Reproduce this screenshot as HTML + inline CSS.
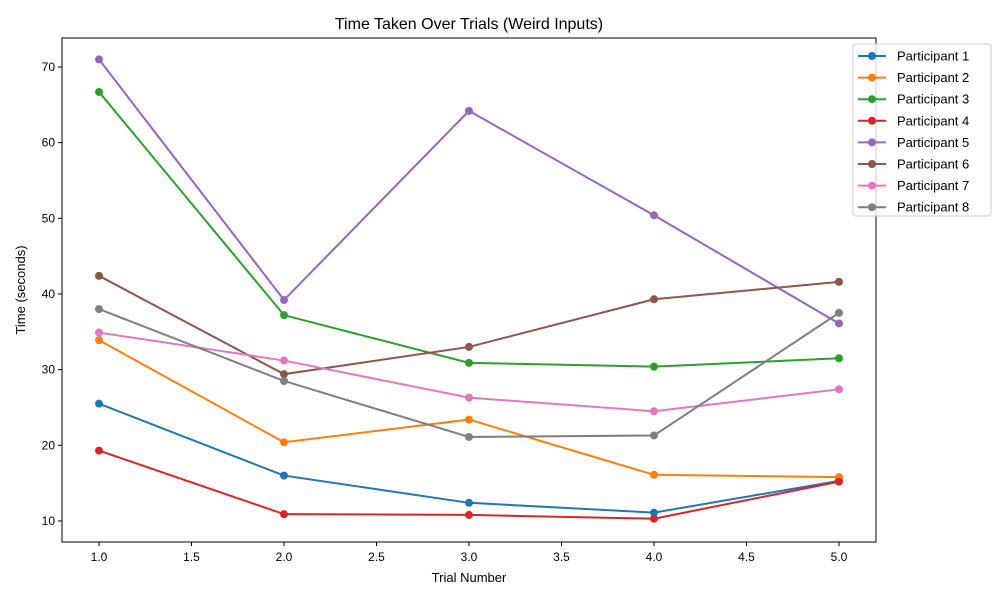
<!DOCTYPE html>
<html><head><meta charset="utf-8"><style>
body{margin:0;background:#fff;font-family:"Liberation Sans",sans-serif}
</style></head><body>
<svg id="chart" width="1000" height="600" xmlns="http://www.w3.org/2000/svg" font-family="Liberation Sans, sans-serif"></svg>
<script>
const trials=[1,2,3,4,5];
const seriesNames=["Participant 1","Participant 2","Participant 3","Participant 4","Participant 5","Participant 6","Participant 7","Participant 8"];
const p1=[25.5,16.0,12.4,11.1,15.3];
const p2=[33.9,20.4,23.4,16.1,15.8];
const p3=[66.7,37.2,30.9,30.4,31.5];
const p4=[19.3,10.9,10.8,10.3,15.2];
const p5=[71.0,39.2,64.2,50.4,36.1];
const p6=[42.4,29.4,33.0,39.3,41.6];
const p7=[34.9,31.2,26.3,24.5,27.4];
const p8=[38.0,28.5,21.1,21.3,37.5];
const xTicks=[1.0,1.5,2.0,2.5,3.0,3.5,4.0,4.5,5.0];
const yTicks=[10,20,30,40,50,60,70];
const colors=["#1f77b4","#ff7f0e","#2ca02c","#d62728","#9467bd","#8c564b","#e377c2","#7f7f7f"];
const series=[p1,p2,p3,p4,p5,p6,p7,p8];
const L=62,R=876,T=38,B=542,xmin=0.8,xmax=5.2,ymin=7.22,ymax=73.83;
const X=v=>L+(v-xmin)/(xmax-xmin)*(R-L);
const Y=v=>B-(v-ymin)/(ymax-ymin)*(B-T);
const svg=document.getElementById('chart');const NS="http://www.w3.org/2000/svg";
function mk(t,a,p){const e=document.createElementNS(NS,t);for(const k in a)e.setAttribute(k,a[k]);(p||svg).appendChild(e);return e;}
const title=mk('text',{x:469,y:29,'text-anchor':'middle','font-size':16,fill:'#000'});title.textContent="Time Taken Over Trials (Weird Inputs)";


xTicks.forEach(v=>{const g=mk('g',{});


mk('line',{x1:X(v),x2:X(v),y1:B,y2:B+4,stroke:'#000'},g);
const t=mk('text',{x:X(v),y:B+19,'text-anchor':'middle','font-size':12},g);t.textContent=v.toFixed(1);});
yTicks.forEach(v=>{const g=mk('g',{});


mk('line',{x1:L-4,x2:L,y1:Y(v),y2:Y(v),stroke:'#000'},g);
const t=mk('text',{x:L-7,y:Y(v)+4,'text-anchor':'end','font-size':12},g);t.textContent=v;});
const xl=mk('text',{x:469,y:582,'text-anchor':'middle','font-size':13});xl.textContent="Trial Number";


const yl=mk('text',{x:25,y:290,'text-anchor':'middle','font-size':13,transform:'rotate(-90 25 290)'});yl.textContent="Time (seconds)";


series.forEach((s,i)=>{const g=mk('g',{});


mk('polyline',{points:s.map((v,j)=>X(trials[j])+','+Y(v)).join(' '),fill:'none',stroke:colors[i],'stroke-width':2},g);
s.forEach((v,j)=>{const c=mk('circle',{cx:X(trials[j]),cy:Y(v),r:4,fill:colors[i]},g);

});});
const frame=mk('rect',{x:L,y:T,width:R-L,height:B-T,fill:'none',stroke:'#000','stroke-width':1});


const lg=mk('g',{});


mk('rect',{x:853,y:44,width:138,height:172,rx:3,fill:'#fff','fill-opacity':0.8,stroke:'#ccc'},lg);
seriesNames.forEach((n,i)=>{const y=56+i*21.6;const e=mk('g',{},lg);


mk('line',{x1:858,x2:886,y1:y,y2:y,stroke:colors[i],'stroke-width':2},e);
mk('circle',{cx:872,cy:y,r:4,fill:colors[i]},e);
const t=mk('text',{x:897,y:y+4.5,'font-size':13},e);t.textContent=n;});
</script>
</body></html>
